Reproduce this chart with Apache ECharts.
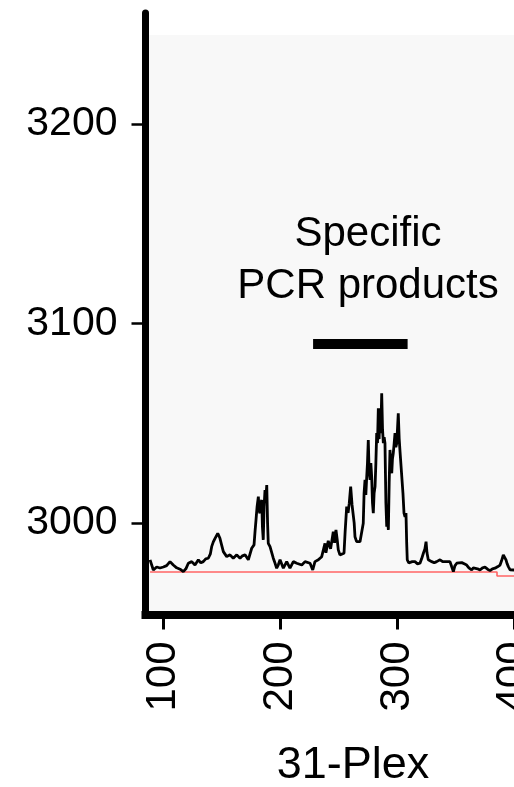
<!DOCTYPE html>
<html>
<head>
<meta charset="utf-8">
<script src="https://cdn.jsdelivr.net/npm/echarts@6/dist/echarts.min.js"></script>
<style>
  html, body { margin: 0; padding: 0; background: #ffffff; }
  #chart { width: 514px; height: 787px; }
</style>
</head>
<body>
<div id="chart"></div>
<script>
// Electropherogram trace: fragment size (bp) vs. signal (RFU)
const trace = [
  [88.3, 2981.5], [91.1, 2976.4], [94.0, 2977.9], [96.8, 2977.4], [99.7, 2977.9],
  [102.5, 2978.6], [105.4, 2980.6], [108.2, 2978.9], [111.1, 2977.5], [114.0, 2976.8],
  [116.8, 2975.6], [119.0, 2977.0], [121.1, 2979.8], [124.0, 2980.6], [126.8, 2978.9],
  [129.7, 2981.5], [131.8, 2980.0], [133.9, 2980.6], [136.0, 2982.0], [138.2, 2982.3],
  [140.0, 2984.5], [141.1, 2988.1], [142.5, 2990.5], [144.0, 2992.3], [146.3, 2994.8],
  [148.2, 2992.3], [149.6, 2989.0], [151.1, 2985.6], [154.0, 2983.1], [156.8, 2984.0],
  [159.6, 2982.3], [162.6, 2984.0], [165.4, 2982.3], [167.5, 2983.5], [169.7, 2984.0],
  [172.5, 2981.5], [175.4, 2987.3], [177.4, 2989.0], [178.3, 2996.0], [179.1, 3001.5],
  [180.0, 3008.0], [181.1, 3013.2], [181.8, 3006.0], [182.5, 3004.9], [183.2, 3010.0],
  [184.0, 3011.5], [184.6, 2998.0], [185.3, 2991.5], [186.0, 3008.0], [186.8, 3016.5],
  [187.5, 3012.0], [188.3, 3019.0], [189.0, 3000.0], [189.6, 2989.8], [191.1, 2988.1],
  [193.9, 2982.3], [195.3, 2980.0], [196.8, 2977.3], [198.2, 2979.0], [199.7, 2981.5],
  [202.5, 2977.3], [205.4, 2980.6], [208.2, 2977.3], [211.1, 2980.6], [214.0, 2979.8],
  [218.3, 2978.9], [221.1, 2980.6], [225.4, 2979.8], [227.7, 2976.4], [229.6, 2980.6],
  [232.5, 2981.5], [235.4, 2983.1], [238.2, 2989.8], [239.0, 2985.0], [239.7, 2985.6],
  [241.0, 2991.0], [241.9, 2991.5], [243.0, 2987.0], [244.0, 2987.3], [245.3, 2995.6],
  [246.4, 2990.0], [247.6, 2996.5], [248.6, 2992.0], [249.6, 2986.5], [251.0, 2984.0],
  [252.5, 2983.1], [254.5, 2984.8], [255.5, 2996.0], [256.8, 3008.2], [258.0, 3005.0],
  [259.0, 3009.9], [260.2, 3018.2], [261.4, 3009.0], [262.5, 3008.2], [263.2, 3000.0],
  [263.9, 2993.1], [265.3, 2990.6], [266.8, 2989.8], [268.2, 2990.6], [269.7, 2990.6],
  [271.0, 2999.8], [271.7, 3015.0], [272.5, 3021.6], [273.2, 3014.0], [273.9, 3022.4],
  [274.6, 3030.0], [275.3, 3041.6], [276.0, 3026.0], [276.8, 3021.6], [277.5, 3030.0],
  [278.2, 3023.2], [278.9, 3010.0], [279.6, 3004.9], [280.3, 3015.0], [281.1, 3018.2],
  [281.8, 3030.0], [282.5, 3045.0], [283.2, 3040.0], [283.9, 3057.5], [284.6, 3042.0],
  [285.3, 3057.5], [286.0, 3045.0], [286.8, 3065.0], [287.5, 3047.0], [288.2, 3040.0],
  [288.9, 3043.0], [289.6, 3040.0], [290.4, 3010.0], [291.1, 2998.1], [291.8, 3002.0],
  [292.5, 2996.5], [293.2, 3020.0], [293.9, 3036.6], [294.7, 3028.0], [295.4, 3024.9],
  [296.0, 3032.0], [296.7, 3034.9], [297.5, 3040.0], [298.2, 3045.0], [298.9, 3038.0],
  [299.7, 3040.0], [300.4, 3048.0], [301.0, 3055.0], [301.8, 3042.0], [302.5, 3035.7],
  [303.2, 3036.0], [303.9, 3034.9], [305.0, 3015.0], [305.9, 3004.9], [306.8, 3003.0],
  [307.6, 3004.9], [308.2, 2990.0], [308.7, 2981.5], [310.0, 2980.0], [311.1, 2979.8],
  [313.0, 2980.6], [315.3, 2980.6], [317.5, 2979.5], [319.6, 2979.8], [321.0, 2982.0],
  [322.5, 2984.8], [323.8, 2987.0], [324.8, 2990.6], [325.6, 2985.0], [326.7, 2981.5],
  [328.0, 2980.8], [329.7, 2980.6], [331.8, 2980.0], [333.9, 2980.6], [335.5, 2981.0],
  [336.8, 2981.5], [339.0, 2980.6], [341.0, 2980.6], [343.0, 2980.6], [345.3, 2980.6],
  [346.8, 2978.0], [348.2, 2975.6], [349.5, 2978.5], [351.1, 2979.8], [353.0, 2980.0],
  [355.4, 2980.1], [357.5, 2979.5], [359.6, 2978.9], [361.5, 2977.5], [363.9, 2976.4],
  [365.3, 2977.5], [366.8, 2978.1], [368.9, 2977.0], [371.0, 2976.4], [373.2, 2977.5],
  [375.3, 2977.8], [377.5, 2976.8], [379.6, 2976.1], [381.7, 2977.0], [383.9, 2977.3],
  [386.0, 2978.0], [388.2, 2978.9], [389.5, 2981.0], [391.0, 2984.0], [392.0, 2983.0],
  [393.3, 2981.5], [394.3, 2979.5], [395.3, 2978.1], [396.8, 2976.5], [398.2, 2975.6],
  [400.2, 2976.4]
];

// Baseline threshold (red), with a small step near the end
const baselineBp  = [88.3, 385.6, 385.6, 405.3];
const baselineRfu = [2975.4, 2975.4, 2973.4, 2973.4];

// Size range of the specific PCR products and the level of the bar marking it
const productRange = [228, 309];
const productLevel = 3090;

// Axis ticks
const xTicks = [100, 200, 300, 400];
const yTicks = [3000, 3100, 3200];

const xMin = 84.4, xMax = 405.3;
const yMin = 2954.1, yMax = 3255.6, panelTop = 3244.6;

const FONT = "'Liberation Sans', Arial, Helvetica, sans-serif";

const chart = echarts.init(document.getElementById('chart'), null, { renderer: 'canvas' });

chart.setOption({
  animation: false,
  backgroundColor: '#ffffff',
  grid: {
    left: 145.5, top: 13, width: 374.5, height: 601.5,
    containLabel: false, outerBoundsMode: 'none'
  },
  xAxis: {
    type: 'value', min: xMin, max: xMax, z: 20,
    axisLine: { onZero: false, lineStyle: { color: '#000', width: 8, cap: 'square' } },
    axisTick: { show: true, customValues: xTicks, length: 15, lineStyle: { color: '#000', width: 3 } },
    axisLabel: {
      customValues: xTicks, rotate: 90, margin: 27,
      fontSize: 42, fontFamily: FONT, color: '#000',
      formatter: v => String(v)
    },
    splitLine: { show: false }
  },
  yAxis: {
    type: 'value', min: yMin, max: yMax, z: 20,
    axisLine: { onZero: false, lineStyle: { color: '#000', width: 7 } },
    axisTick: { show: true, customValues: yTicks, length: 14, lineStyle: { color: '#000', width: 2.5 } },
    axisLabel: {
      customValues: yTicks, margin: 28,
      fontSize: 41, fontFamily: FONT, color: '#000',
      formatter: v => String(v)
    },
    splitLine: { show: false }
  },
  series: [
    {
      // light panel behind the trace
      type: 'line', data: [], z: 0, silent: true,
      markArea: {
        silent: true,
        itemStyle: { color: '#f8f8f8' },
        data: [[{ coord: [xMin, yMin] }, { coord: [xMax, panelTop] }]]
      }
    },
    {
      name: 'baseline', type: 'line', z: 1, silent: true,
      showSymbol: false, symbol: 'none',
      lineStyle: { color: '#ff6464', width: 1.6 },
      data: baselineBp.map((b, i) => [b, baselineRfu[i]])
    },
    {
      name: '31-Plex', type: 'line', z: 2, silent: true,
      showSymbol: false, symbol: 'none',
      lineStyle: { color: '#000', width: 2.8 },
      data: trace,
      markLine: {
        silent: true, symbol: ['none', 'none'],
        label: { show: false },
        lineStyle: { color: '#000', width: 10, type: 'solid', cap: 'butt' },
        data: [[{ coord: [productRange[0], productLevel] }, { coord: [productRange[1], productLevel] }]]
      }
    }
  ],
  graphic: [
    {
      type: 'text', x: 368, y: 234, z: 100, silent: true,
      style: {
        text: 'Specific',
        fontSize: 42, fontFamily: FONT, fill: '#000',
        align: 'center', verticalAlign: 'middle'
      }
    },
    {
      type: 'text', x: 368, y: 286, z: 100, silent: true,
      style: {
        text: 'PCR products',
        fontSize: 42, fontFamily: FONT, fill: '#000',
        align: 'center', verticalAlign: 'middle'
      }
    },
    {
      type: 'text', x: 353, y: 766, z: 100, silent: true,
      style: {
        text: '31-Plex',
        fontSize: 45, fontFamily: FONT, fill: '#000',
        align: 'center', verticalAlign: 'middle'
      }
    }
  ]
});
</script>
</body>
</html>
